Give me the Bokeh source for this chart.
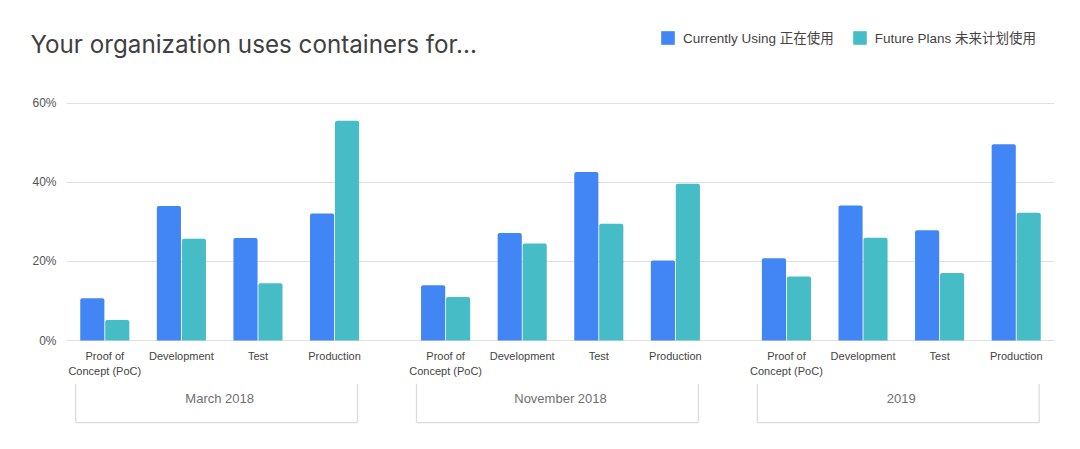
from bokeh.plotting import figure
from bokeh.layouts import column, row
from bokeh.models import (ColumnDataSource, FactorRange, Range1d, FixedTicker,
                          PrintfTickFormatter, Legend, LegendItem, Label)
from bokeh.transform import dodge
from bokeh.core.properties import value
from bokeh.embed import file_html
from bokeh.resources import INLINE

# ---------------- data ----------------
groups = ["March 2018", "November 2018", "2019"]
categories = ["Proof of Concept (PoC)", "Development", "Test", "Production"]
category_labels = ["Proof of\nConcept (PoC)", "Development", "Test", "Production"]
currently_using = [10.7, 34.0, 25.9, 32.1,
                   14.0, 27.2, 42.6, 20.2,
                   20.8, 34.1, 27.9, 49.6]
future_plans = [5.2, 25.7, 14.5, 55.5,
                11.0, 24.5, 29.5, 39.6,
                16.2, 26.0, 17.1, 32.3]
y_ticks = [0, 20, 40, 60]
series_names = ["Currently Using 正在使用", "Future Plans 未来计划使用"]
title_text = "Your organization uses containers for..."

# ---------------- styles ----------------
BLUE = "#4285F4"
TEAL = "#46BDC6"
FONT = "Liberation Sans, Noto Sans CJK SC"
HEAD_H = 80
TITLE_W = 600

factors = [(g, c) for g in groups for c in categories]
labels = [lab for g in groups for lab in category_labels]
src = ColumnDataSource(dict(x=factors, cur=currently_using, fut=future_plans, lab=labels))
x_range = FactorRange(*factors, group_padding=0.45, range_padding=0)
bw = 0.315


def style_bars(fig):
    a = fig.vbar(x=dodge("x", -0.163, range=fig.x_range), top="cur", width=bw, source=src,
                 fill_color=BLUE, line_color=None, border_radius=(2, 2, 0, 0))
    b = fig.vbar(x=dodge("x", 0.163, range=fig.x_range), top="fut", width=bw, source=src,
                 fill_color=TEAL, line_color=None, border_radius=(2, 2, 0, 0))
    return a, b


# ---------------- header: title ----------------
head_t = figure(width=TITLE_W, height=HEAD_H, x_range=Range1d(0, 1), y_range=Range1d(0, 1),
                output_backend="svg", toolbar_location=None,
                x_axis_location=None, y_axis_location=None, min_border=0,
                outline_line_color=None)
head_t.grid.grid_line_color = None
head_t.add_layout(Label(x=30, y=HEAD_H - 44, x_units="screen", y_units="screen",
                        text=title_text, text_font="Inter", text_font_size="24.2px",
                        text_color="#404040", text_baseline="alphabetic"))

# ---------------- header: legend ----------------
head_l = figure(width=1080 - TITLE_W, height=HEAD_H, x_range=x_range,
                y_range=Range1d(1000, 1001), output_backend="svg", toolbar_location=None,
                x_axis_location=None, y_axis_location=None, min_border=0,
                outline_line_color=None)
head_l.grid.grid_line_color = None
h1, h2 = style_bars(head_l)   # series renderers (out of view) that feed the legend
legend = Legend(items=[LegendItem(label=series_names[0], renderers=[h1]),
                       LegendItem(label=series_names[1], renderers=[h2])],
                orientation="horizontal", location=(659 - TITLE_W, HEAD_H - 47),
                glyph_width=17, glyph_height=17, label_standoff=7, spacing=17,
                padding=0, margin=0, border_line_color=None, background_fill_alpha=0,
                label_text_font=FONT, label_text_font_size="13.5px",
                label_text_color="#444444", label_height=17)
head_l.add_layout(legend)

# ---------------- main chart ----------------
y_range = Range1d(-22.7, 61.9)
p = figure(width=1080, height=449 - HEAD_H, x_range=x_range, y_range=y_range,
           output_backend="svg", toolbar_location=None, x_axis_location=None,
           min_border_left=66, min_border_right=26, min_border_top=95 - HEAD_H,
           min_border_bottom=19, outline_line_color=None)
style_bars(p)

# y axis
yax = p.yaxis[0]
yax.ticker = FixedTicker(ticks=y_ticks)
yax.formatter = PrintfTickFormatter(format="%d%%")
yax.axis_line_color = None
yax.major_tick_line_color = None
yax.minor_tick_line_color = None
yax.major_tick_out = 0
yax.major_tick_in = 0
yax.major_label_standoff = 10
yax.major_label_text_font = "Liberation Sans"
yax.major_label_text_font_size = "12px"
yax.major_label_text_color = "#555555"
p.ygrid.ticker = FixedTicker(ticks=y_ticks)
p.ygrid.grid_line_color = "#e0e0e0"
p.ygrid.grid_line_width = 1
p.xgrid.grid_line_color = None

# category labels
p.text(x="x", y=0, text="lab", source=src, y_offset=9,
       text_align="center", text_baseline="top", text_font=value("Liberation Sans"),
       text_font_size="11px", text_color="#444444", text_line_height=1.25)

# group brackets and labels
gsrc = ColumnDataSource(dict(
    left=[(g, categories[0], -0.38) for g in groups],
    right=[(g, categories[-1], 0.30) for g in groups],
    mid=[(g, categories[1], 0.5) for g in groups],
    name=groups,
))
B_TOP, B_BOT, G_LAB = -10.9, -20.7, -14.6
BR = "#dcdcdc"
p.segment(x0="left", y0=B_TOP, x1="left", y1=B_BOT, source=gsrc, line_color=BR, line_width=1.3)
p.segment(x0="right", y0=B_TOP, x1="right", y1=B_BOT, source=gsrc, line_color=BR, line_width=1.3)
p.segment(x0="left", y0=B_BOT, x1="right", y1=B_BOT, source=gsrc, line_color=BR, line_width=1.3)
p.text(x="mid", y=G_LAB, text="name", source=gsrc, text_align="center",
       text_baseline="middle", text_font=value("Liberation Sans"),
       text_font_size="13px", text_color="#707070")

layout = column(row(head_t, head_l, spacing=0), p, spacing=0)
open("out.html", "w").write(file_html(layout, INLINE))
